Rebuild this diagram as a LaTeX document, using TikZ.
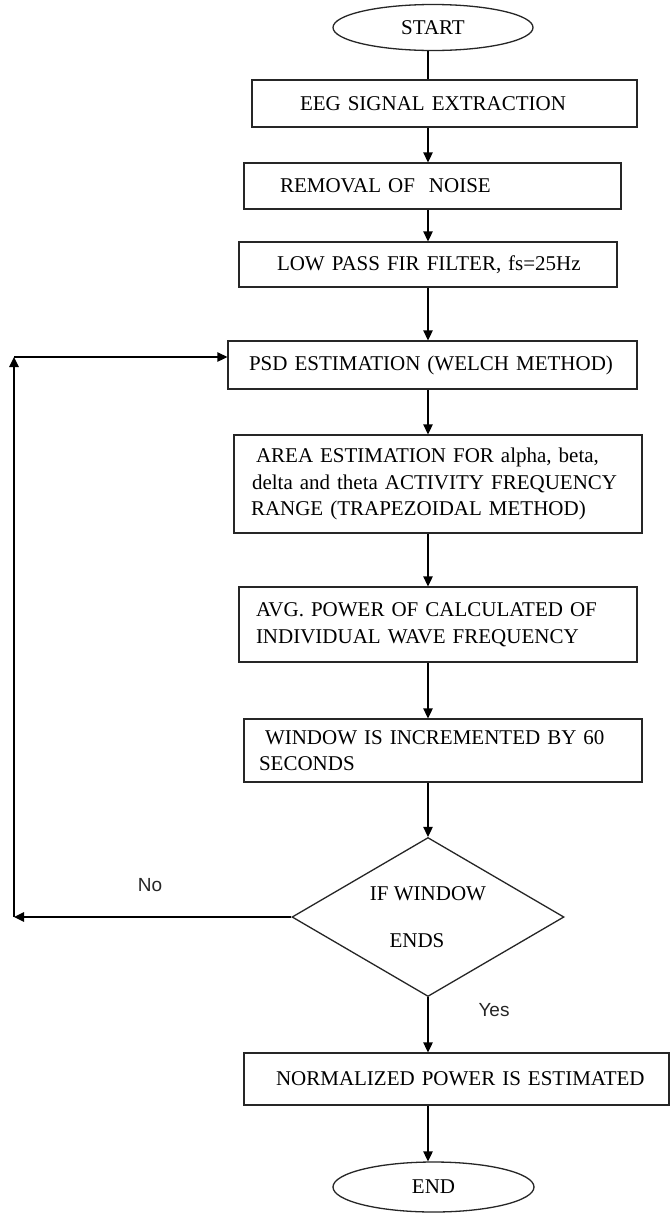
\documentclass[tikz,border=0pt]{standalone}
\usepackage{fontspec}
\setmainfont{Liberation Serif}
\newfontfamily\labfont{Liberation Sans}
\usetikzlibrary{shapes.geometric,arrows.meta}
\begin{document}
\begin{tikzpicture}[x=1pt,y=-1pt,
  every node/.style={font=\fontsize{21}{26.5}\selectfont},
  stepbox/.style={draw=black!85,line width=1.3pt,rectangle,inner xsep=0pt,inner ysep=0pt,align=left},
  term/.style={draw=black!85,line width=1.3pt,ellipse,inner sep=0pt,minimum width=200pt,minimum height=46pt},
  decide/.style={draw=black!85,line width=1.3pt,diamond,inner sep=0pt,aspect=1.71,align=center,minimum width=272pt,minimum height=159pt},
  arr/.style={line width=1.3pt,-{Triangle[length=10pt,width=9.5pt]}},
  plain/.style={line width=1.3pt},
  lab/.style={font=\labfont\fontsize{19}{22}\selectfont,text=black!85}]
\useasboundingbox[fill=white] (0,0) rectangle (670,1213);
\coordinate (spine) at (428,0);
% nodes
\node[term] (start) at (433,27.5) {START};
\node[stepbox,text width=385pt,minimum height=47pt] (eeg) at (444.5,103.5) {\hspace*{48pt}EEG SIGNAL EXTRACTION};
\node[stepbox,text width=377pt,minimum height=46pt] (rem) at (432.5,186) {\hspace*{36pt}REMOVAL OF\ \ NOISE};
\node[stepbox,text width=378pt,minimum height=45pt] (low) at (428,264.5) {\hspace*{38pt}LOW PASS FIR FILTER, fs=25Hz};
\node[stepbox,text width=409pt,minimum height=48pt] (psd) at (432.5,365) {\hspace*{21pt}PSD ESTIMATION (WELCH METHOD)};
\node[stepbox,text width=408pt,minimum height=98pt] (area) at (438,484) {\hspace*{22pt}AREA ESTIMATION FOR alpha, beta,\\\hspace*{18pt}delta and theta ACTIVITY FREQUENCY\\\hspace*{17pt}RANGE (TRAPEZOIDAL METHOD)};
\node[stepbox,text width=398pt,minimum height=75pt] (avg) at (438,624.5) {\hspace*{17pt}AVG. POWER OF CALCULATED OF\\\hspace*{17pt}INDIVIDUAL WAVE FREQUENCY};
\node[stepbox,text width=398pt,minimum height=63pt] (win) at (443,750.5) {\hspace*{21pt}WINDOW IS INCREMENTED BY 60\\\hspace*{15pt}SECONDS};
\node[decide] (dia) at (428,917) {IF WINDOW\\[20.5pt]\hspace*{-22pt}ENDS};
\node[stepbox,text width=425pt,minimum height=52pt] (norm) at (456.5,1079) {\hspace*{32pt}NORMALIZED POWER IS ESTIMATED};
\node[term,minimum width=201pt,minimum height=50pt] (end) at (433.5,1187) {END};
\node[lab] (no) at (150,885) {No};
\node[lab] (yes) at (494,1010) {Yes};
% loop coordinates
\coordinate (lc) at (14,917);
\coordinate (lt) at (14,357);
% connectors
\draw[plain] (start.south -| spine) -- (eeg.north -| spine);
\draw[arr] (eeg.south -| spine) -- (rem.north -| spine);
\draw[arr] (rem.south -| spine) -- (low.north -| spine);
\draw[arr] (low.south -| spine) -- (psd.north -| spine);
\draw[arr] (psd.south -| spine) -- (area.north -| spine);
\draw[arr] (area.south -| spine) -- (avg.north -| spine);
\draw[arr] (avg.south -| spine) -- (win.north -| spine);
\draw[arr] (win.south -| spine) -- (dia.north);
\draw[arr] (dia.south) -- (norm.north -| dia.south);
\draw[arr] (norm.south -| spine) -- (end.north -| spine);
\draw[arr] (dia.west) -- (lc);
\draw[arr] (lc) -- (lt);
\draw[arr] (lt) -- (psd.west |- lt);
\end{tikzpicture}
\end{document}
